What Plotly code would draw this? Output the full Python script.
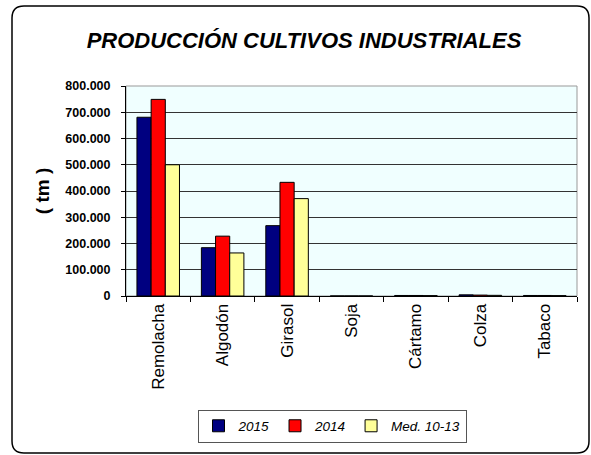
import plotly.graph_objects as go

categories = ["Remolacha", "Algodón", "Girasol", "Soja", "Cártamo", "Colza", "Tabaco"]
v2015 = [681000, 184000, 268000, 0, 2000, 4500, 2000]
v2014 = [749000, 228000, 433000, 0, 2000, 3500, 2000]
vmed = [500000, 164000, 371000, 0, 1500, 2500, 1500]
series_names = ["2015", "2014", "Med. 10-13"]
series_colors = ["#000080", "#FF0000", "#FFFF99"]
y_ticks = [0, 100000, 200000, 300000, 400000, 500000, 600000, 700000, 800000]

W, H = 591, 455
L, R, T, B = 126, 14, 86, 159

fig = go.Figure()
for name, vals, col in zip(series_names, [v2015, v2014, vmed], series_colors):
    fig.add_trace(go.Bar(
        x=categories, y=vals, name=name,
        marker=dict(color=col, line=dict(color="black", width=1)),
    ))

fig.update_layout(
    width=W, height=H,
    margin=dict(l=L, r=R, t=T, b=B),
    paper_bgcolor="white",
    plot_bgcolor="#F0FFFF",
    separators=",.",
    barmode="group",
    bargap=0.34,
    bargroupgap=0,
    showlegend=True,
    font=dict(family="Liberation Sans, Arial, sans-serif", color="black"),
    title=dict(
        text="<b><i>PRODUCCIÓN CULTIVOS INDUSTRIALES</i></b>",
        x=304 / W, xref="container", xanchor="center",
        y=1 - 40 / H, yref="container", yanchor="middle",
        font=dict(family="Liberation Sans, Arial", size=22, color="black"),
    ),
    legend=dict(
        orientation="h",
        x=332 / W, xanchor="center", xref="container",
        y=1 - 426 / H, yanchor="middle", yref="container",
        bordercolor="#555555", borderwidth=1,
        bgcolor="white",
        font=dict(family="Liberation Sans, Arial", size=13.5, style="italic"),
        itemwidth=30,
        tracegroupgap=0,
    ),
)

fig.update_yaxes(
    range=[0, 800000],
    tickvals=y_ticks,
    tickformat=",d",
    tickfont=dict(family="Liberation Sans, Arial", size=12.5, weight="bold"),
    ticklabelstandoff=8,
    showgrid=True, gridcolor="#333333", gridwidth=1,
    showline=True, linecolor="black", linewidth=1,
    ticks="outside", ticklen=4, tickcolor="black",
    zeroline=False,
    title=dict(text="<b>( tm )</b>", font=dict(size=19), standoff=10),
)
fig.update_xaxes(
    tickangle=-90,
    tickfont=dict(family="Liberation Sans, Arial", size=17),
    showline=True, linecolor="black", linewidth=1,
    ticks="outside", ticklen=5, tickcolor="black",
    tickson="boundaries",
    showgrid=False,
)

# plot area border
fig.add_shape(type="rect", xref="paper", yref="paper", x0=0, x1=1, y0=0, y1=1,
              line=dict(color="#999999", width=1), layer="below")

# outer rounded frame (pixel coords converted to paper coords)
pw, ph = W - L - R, H - T - B
def px(x): return (x - L) / pw
def py(y): return (H - B - y) / ph
r = 12
x0, y0, x1, y1 = 12, 6, 589, 453
segs = [("M", [(x0 + r, y0)]), ("L", [(x1 - r, y0)]), ("Q", [(x1, y0), (x1, y0 + r)]),
        ("L", [(x1, y1 - r)]), ("Q", [(x1, y1), (x1 - r, y1)]), ("L", [(x0 + r, y1)]),
        ("Q", [(x0, y1), (x0, y1 - r)]), ("L", [(x0, y0 + r)]), ("Q", [(x0, y0), (x0 + r, y0)])]
path = " ".join(c + " " + " ".join(f"{px(a):.5f},{py(b):.5f}" for a, b in pts) for c, pts in segs) + " Z"
fig.add_shape(type="path", xref="paper", yref="paper", path=path,
              line=dict(color="black", width=1.5), fillcolor="rgba(0,0,0,0)")

fig.write_html("out.html", config={"displayModeBar": False},
               post_script="document.body.style.margin='0';")
